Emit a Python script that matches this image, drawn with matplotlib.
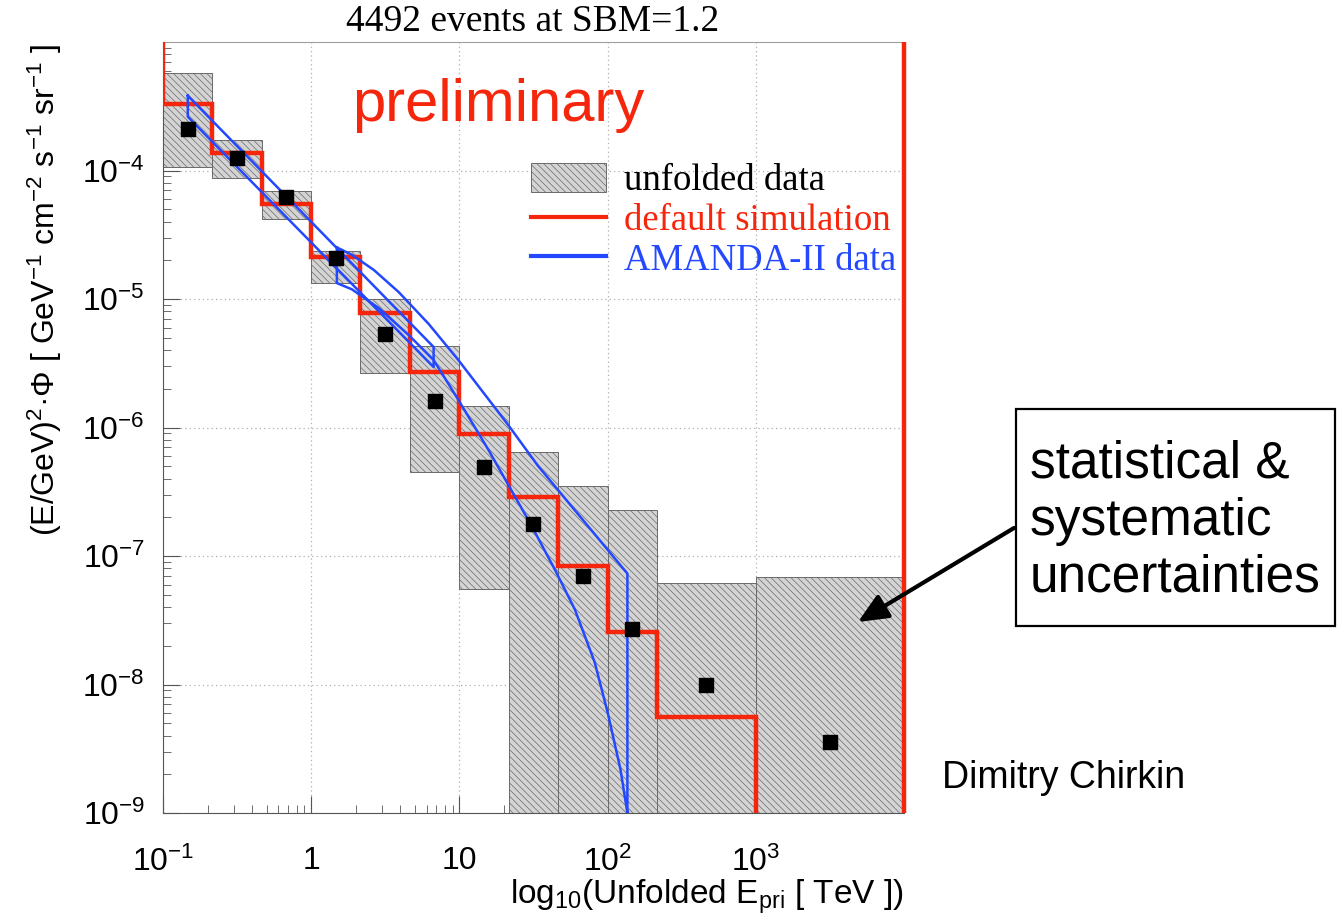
import numpy as np
import matplotlib
matplotlib.use('Agg')
import matplotlib.pyplot as plt
from matplotlib.patches import Patch, Rectangle
from matplotlib.lines import Line2D

plt.rcParams['font.family'] = ['Liberation Sans', 'DejaVu Sans']
plt.rcParams['mathtext.fontset'] = 'custom'
plt.rcParams['mathtext.rm'] = 'Liberation Sans'
plt.rcParams['mathtext.it'] = 'Liberation Sans:italic'
plt.rcParams['hatch.linewidth'] = 0.5

# energy bins (TeV), 1/3 decade up to 215 TeV, then wider
bin_edges = [0.1, 0.215, 0.464, 1.0, 2.15, 4.64, 10.0, 21.5, 46.4, 100.0, 215.0, 1000.0, 10000.0]
bin_centers = [0.147, 0.316, 0.681, 1.47, 3.16, 6.81, 14.7, 31.6, 68.1, 147.0, 464.0, 3160.0]

# unfolded flux (E^2 * Phi) and its stat+syst band
unfolded_flux = [2.09e-4, 1.26e-4, 6.2e-5, 2.07e-5, 5.33e-6, 1.61e-6, 4.94e-7, 1.79e-7,
                 7.05e-8, 2.69e-8, 9.9e-9, 3.56e-9]
band_high = [5.77e-4, 1.74e-4, 6.87e-5, 2.35e-5, 1.0e-5, 4.31e-6, 1.47e-6, 6.46e-7,
             3.52e-7, 2.29e-7, 6.21e-8, 6.92e-8]
band_low = [1.07e-4, 8.67e-5, 4.17e-5, 1.33e-5, 2.65e-6, 4.52e-7, 5.58e-8, 0, 0, 0, 0, 0]

# default simulation histogram
sim_flux = [3.31e-4, 1.36e-4, 5.45e-5, 2.11e-5, 7.76e-6, 2.70e-6, 8.91e-7, 2.88e-7,
            8.32e-8, 2.57e-8, 5.62e-9, 0]

# AMANDA-II unfolded spectrum, two overlapping bands
amanda1_e = [0.147, 6.70]
amanda1_high = [3.82e-4, 4.23e-6]
amanda1_low = [2.62e-4, 2.95e-6]

amanda2_e_high = [1.49, 1.88, 2.65, 3.90, 6.20, 9.84, 21.3, 33.9, 136.0]
amanda2_high = [2.52e-5, 2.21e-5, 1.68e-5, 1.13e-5, 6.4e-6, 3.35e-6, 1.05e-6, 5.03e-7, 7.3e-8]
amanda2_e_low = [1.49, 1.88, 2.86, 4.55, 6.70, 9.84, 15.7, 30.4, 44.1, 60.1, 81.8, 100.0, 122.0, 136.0]
amanda2_low = [1.33e-5, 1.19e-5, 8.49e-6, 5.24e-6, 3.35e-6, 1.64e-6, 6.70e-7, 1.75e-7,
               7.83e-8, 3.84e-8, 1.49e-8, 6.08e-9, 2.20e-9, 1.0e-9]

x_ticks = [0.1, 1, 10, 100, 1000]
x_ticklabels = ['$10^{-1}$', '1', '10', '$10^{2}$', '$10^{3}$']
y_ticks = [1e-9, 1e-8, 1e-7, 1e-6, 1e-5, 1e-4]
y_ticklabels = ['$10^{-9}$', '$10^{-8}$', '$10^{-7}$', '$10^{-6}$', '$10^{-5}$', '$10^{-4}$']

RED = '#f5260c'
BLUE = '#2448ff'
HATCH_GREY = '#6a6a6a'
BOX_FILL = '#d4d4d4'
HATCH = '\\\\\\\\\\'
YMIN, YMAX = 1e-9, 1e-3
FLOOR = 1e-12  # empty bins drop below the visible range
SERIF = ['Liberation Serif', 'DejaVu Serif']

fig = plt.figure(figsize=(13.42, 9.24), dpi=100)
ax = fig.add_axes([163 / 1342, 1 - 813 / 924, 741 / 1342, 771 / 924])
ax.set_xscale('log')
ax.set_yscale('log')
ax.set_xlim(bin_edges[0], bin_edges[-1])
ax.set_ylim(YMIN, YMAX)

edges = np.array(bin_edges)
lo = np.array(band_low, dtype=float)
hi = np.array(band_high, dtype=float)
lo_plot = np.where(lo > 0, lo, FLOOR)

# uncertainty boxes
ax.bar(edges[:-1], hi - lo_plot, width=np.diff(edges), bottom=lo_plot, align='edge',
       facecolor=BOX_FILL, edgecolor=HATCH_GREY, linewidth=0.7, hatch=HATCH, zorder=2)

# simulation histogram
sim = np.array(sim_flux, dtype=float)
sim_plot = np.where(sim > 0, sim, FLOOR)
ax.stairs(sim_plot, edges, baseline=None, color=RED, linewidth=3.2, zorder=3)
ax.vlines(edges[0], sim_plot[0], YMAX, color=RED, linewidth=3.2, zorder=3)
ax.vlines(edges[-1], YMIN, YMAX, color=RED, linewidth=3.2, zorder=3, clip_on=False)

# AMANDA-II bands as closed outlines
b1x = amanda1_e + amanda1_e[::-1] + amanda1_e[:1]
b1y = amanda1_high + amanda1_low[::-1] + amanda1_high[:1]
ax.plot(b1x, b1y, color=BLUE, linewidth=1.8, zorder=4)
b2x = amanda2_e_high + [amanda2_e_high[-1]] + amanda2_e_low[::-1] + amanda2_e_high[:1]
b2y = amanda2_high + [YMIN * 0.5] + amanda2_low[::-1] + amanda2_high[:1]
ax.plot(b2x, b2y, color=BLUE, linewidth=1.8, zorder=4)

# unfolded points
ax.plot(bin_centers, unfolded_flux, linestyle='none', marker='s', markersize=9.5,
        color='black', zorder=5)

# axes styling
ax.grid(True, which='major', color='#b0b0b0', linestyle=(0, (1, 2.5)), linewidth=0.9)
ax.set_axisbelow(True)
ax.set_xticks(x_ticks)
ax.set_xticklabels(x_ticklabels)
ax.set_yticks(y_ticks)
ax.set_yticklabels(y_ticklabels)
ax.tick_params(which='both', direction='in', colors='#555555', labelcolor='black')
ax.tick_params(which='major', length=12, width=0.8, labelsize=23)
ax.tick_params(which='minor', length=6, width=0.6)
ax.tick_params(axis='x', pad=24)
ax.tick_params(axis='y', pad=13)
ax.spines['left'].set_color('#555555')
ax.spines['bottom'].set_color('#555555')
ax.spines['top'].set_color('#a0a0a0')
ax.spines['right'].set_visible(False)

fig.text(45 / 1342, 1 - 44 / 924,
         '(E/GeV)$^{2}$·Φ [ GeV$^{-1}$ cm$^{-2}$ s$^{-1}$ sr$^{-1}$ ]',
         rotation=90, ha='center', va='top', fontsize=23)
fig.text(904 / 1342, 1 - 897 / 924, 'log$_{10}$(Unfolded E$_{\\mathrm{pri}}$ [ TeV ])',
         ha='right', va='center', fontsize=24)

fig.text(533 / 1342, 1 - 22 / 924, '4492 events at SBM=1.2', ha='center', va='center',
         fontsize=27, family=SERIF)

ax.text(352 / 1342, 1 - 121 / 924, 'preliminary', transform=fig.transFigure,
        ha='left', va='baseline', fontsize=43, color=RED)

handles = [Patch(facecolor=BOX_FILL, edgecolor=HATCH_GREY, hatch=HATCH, linewidth=0.7),
           Line2D([], [], color=RED, linewidth=3),
           Line2D([], [], color=BLUE, linewidth=3)]
leg = ax.legend(handles, ['unfolded data', 'default simulation', 'AMANDA-II data'],
                loc='upper left', bbox_to_anchor=(0.496, 0.843), frameon=False,
                prop={'family': SERIF, 'size': 26.5},
                handlelength=2.05, handleheight=0.85, handletextpad=0.5,
                labelspacing=0.12, borderpad=0, borderaxespad=0,
                labelcolor=['black', RED, BLUE])

# annotation box on the right
fig.add_artist(Rectangle((1016 / 1342, 1 - 626 / 924), 319 / 1342, 217 / 924,
                         transform=fig.transFigure, fill=False, edgecolor='black',
                         linewidth=1.6))
fig.text(1030 / 1342, 1 - 521 / 924, 'statistical &\nsystematic\nuncertainties',
         ha='left', va='center', fontsize=37, linespacing=1.2)
ax.annotate('', xy=(858 / 1342, 1 - 622 / 924), xycoords='figure fraction',
            xytext=(1014 / 1342, 1 - 528 / 924), textcoords='figure fraction',
            arrowprops=dict(arrowstyle='-|>,head_length=0.9,head_width=0.4',
                            lw=3, color='black', mutation_scale=20, shrinkA=0, shrinkB=0),
            annotation_clip=False)

fig.text(942 / 1342, 1 - 778 / 924, 'Dimitry Chirkin', ha='left', va='center', fontsize=27)

fig.savefig('out.png', dpi=100)
